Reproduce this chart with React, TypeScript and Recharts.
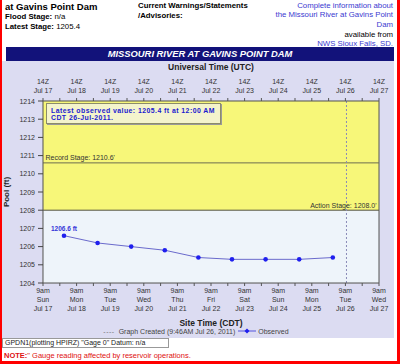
import React from 'react';
import {
  ComposedChart,
  Line,
  XAxis,
  YAxis,
  CartesianGrid,
  ReferenceArea,
  ReferenceLine,
  Label,
} from 'recharts';

// ---- data (July 2011, days of month, CDT) ----
const obsDays = [18, 19, 20, 21, 22, 23, 24, 25, 26]; // 12:00 AM CDT of each day
const obsStage = [1206.6, 1206.2, 1206.0, 1205.8, 1205.4, 1205.3, 1205.3, 1205.3, 1205.4];
const tickDates = ['Jul 17', 'Jul 18', 'Jul 19', 'Jul 20', 'Jul 21', 'Jul 22', 'Jul 23', 'Jul 24', 'Jul 25', 'Jul 26', 'Jul 27'];
const tickWeekdays = ['Sun', 'Mon', 'Tue', 'Wed', 'Thu', 'Fri', 'Sat', 'Sun', 'Mon', 'Tue', 'Wed'];
const stageTicks = [1204, 1205, 1206, 1207, 1208, 1209, 1210, 1211, 1212, 1213, 1214];
const firstTickDay = 17;
const tickHourCDT = 9; // 14Z
const recordStage = 1210.6;
const actionStage = 1208.0;
const createdDay = 26;
const createdHour = 9 + 46 / 60;

const data = obsDays.map((d, i) => ({ t: d, stage: obsStage[i] }));
const x0 = firstTickDay + tickHourCDT / 24;
const xMax = x0 + (tickDates.length - 1);
const xTicks: number[] = [];
for (let i = 0; i <= 2 * (tickDates.length - 1); i++) xTicks.push(x0 + i / 2);
const yMin = stageTicks[0];
const yMax = stageTicks[stageTicks.length - 1];
const yTicks: number[] = [];
for (let i = 0; i <= 2 * (stageTicks.length - 1); i++) yTicks.push(yMin + i / 2);
const createdT = createdDay + createdHour / 24;

const FONT = '"Liberation Sans", Arial, Helvetica, sans-serif';
const TXT = '#333';
const LAV = '#dcdcf2';

const TopTick = (props: any) => {
  const { x, y, payload } = props;
  const i = Math.round((payload.value - x0) * 2);
  if (i % 2 !== 0) return <g />;
  const d = i / 2;
  return (
    <text x={x} y={y} textAnchor="middle" fontSize={7} fill={TXT} fontFamily={FONT}>
      <tspan x={x} dy={-12}>14Z</tspan>
      <tspan x={x} dy={9.4}>{tickDates[d]}</tspan>
    </text>
  );
};

const BottomTick = (props: any) => {
  const { x, y, payload } = props;
  const i = Math.round((payload.value - x0) * 2);
  if (i % 2 !== 0) return <g />;
  const d = i / 2;
  return (
    <text x={x} y={y} textAnchor="middle" fontSize={7} fill={TXT} fontFamily={FONT}>
      <tspan x={x} dy={5.3}>9am</tspan>
      <tspan x={x} dy={8.5}>{tickWeekdays[d]}</tspan>
      <tspan x={x} dy={8.8}>{tickDates[d]}</tspan>
    </text>
  );
};

const LeftTick = (props: any) => {
  const { x, y, payload } = props;
  const v = payload.value;
  if (Math.abs(v - Math.round(v)) > 1e-6) return <g />;
  return (
    <g>
      <line x1={x + 3} x2={x + 8} y1={y} y2={y} stroke="#444" strokeWidth={1} />
      <text x={x} y={y} dy={2.5} textAnchor="end" fontSize={7} fill={TXT} fontFamily={FONT}>
        {Math.round(v)}
      </text>
    </g>
  );
};

const FirstPointLabel = (props: any) => {
  const { x, y, index, value } = props;
  if (index !== 0) return <g />;
  return (
    <text x={x} y={y - 5} textAnchor="middle" fontSize={6.5} fontWeight="bold" fill="#3535d8" fontFamily={FONT}>
      {`${Number(value).toFixed(1)} ft`}
    </text>
  );
};

export default function App() {
  const abs = (s: React.CSSProperties): React.CSSProperties => ({ position: 'absolute', ...s });
  return (
    <div style={{ position: 'absolute', left: 0, top: 0, width: 400, height: 364, background: '#fff', overflow: 'hidden', fontFamily: FONT }}>
      {/* chart on lavender panel */}
      <div style={abs({ left: 2, top: 61, width: 392, height: 277, background: LAV, overflow: 'hidden' })}>
        <div style={abs({ left: -2, top: -61 })}>
          <ComposedChart width={400} height={364} data={data} margin={{ top: 61, right: 21, bottom: 36, left: 0 }}>
            <ReferenceArea xAxisId="bottom" yAxisId="left" y1={actionStage} y2={yMax} fill="#f7f779" fillOpacity={1} stroke="none" />
            <ReferenceArea xAxisId="bottom" yAxisId="left" y1={yMin} y2={actionStage} fill="#eef4fa" fillOpacity={1} stroke="none" />
            <CartesianGrid xAxisId="bottom" yAxisId="left" stroke="#cfcfcf" strokeWidth={0.8} />
            <XAxis
              xAxisId="top"
              dataKey="t"
              orientation="top"
              type="number"
              domain={[x0, xMax]}
              ticks={xTicks}
              interval={0}
              height={40}
              tickSize={3}
              tickMargin={2}
              stroke="#555"
              tick={<TopTick />}
              allowDataOverflow
            >
              <Label value="Universal Time (UTC)" position="insideTop" offset={3} fontSize={8.5} fontWeight="bold" fill="#222" fontFamily={FONT} />
            </XAxis>
            <XAxis
              xAxisId="bottom"
              dataKey="t"
              orientation="bottom"
              type="number"
              domain={[x0, xMax]}
              ticks={xTicks}
              interval={0}
              height={45}
              tickSize={3}
              tickMargin={2}
              stroke="#555"
              tick={<BottomTick />}
              allowDataOverflow
            >
              <Label value="Site Time (CDT)" position="insideBottom" offset={2} fontSize={8.5} fontWeight="bold" fill="#222" fontFamily={FONT} />
            </XAxis>
            <YAxis
              yAxisId="left"
              type="number"
              domain={[yMin, yMax]}
              ticks={yTicks}
              interval={0}
              width={43}
              tickSize={5}
              tickMargin={3}
              tickLine={false}
              stroke="#555"
              tick={<LeftTick />}
              allowDataOverflow
            >
              <Label
                value="Pool (ft)"
                angle={-90}
                position="insideLeft"
                offset={6}
                fontSize={8}
                fontWeight="bold"
                fill="#222"
                fontFamily={FONT}
                style={{ textAnchor: 'middle' }}
              />
            </YAxis>
            <ReferenceLine xAxisId="bottom" yAxisId="left" x={xMax} stroke="#555" />
            <ReferenceLine
              xAxisId="bottom"
              yAxisId="left"
              y={recordStage}
              stroke="#6e6e50"
              strokeWidth={1}
              label={{ value: "Record Stage: 1210.6'", position: 'insideBottomLeft', offset: 2.5, fontSize: 7, fill: '#333', fontFamily: FONT }}
            />
            <ReferenceLine
              xAxisId="bottom"
              yAxisId="left"
              y={actionStage}
              stroke="#55553f"
              strokeWidth={1}
              label={{ value: "Action Stage: 1208.0'", position: 'insideBottomRight', offset: 2.5, fontSize: 7, fill: '#333', fontFamily: FONT }}
            />
            <ReferenceLine xAxisId="bottom" yAxisId="left" x={createdT} stroke="#8a8ab8" strokeDasharray="2 2" />
            {/* invisible series bound to the UTC axis so it gets a scale */}
            <Line
              xAxisId="top"
              yAxisId="left"
              type="linear"
              dataKey="stage"
              stroke="none"
              dot={false}
              activeDot={false}
              legendType="none"
              isAnimationActive={false}
            />
            <Line
              xAxisId="bottom"
              yAxisId="left"
              type="linear"
              dataKey="stage"
              stroke="#6a6acc"
              strokeWidth={1}
              dot={{ r: 2.3, fill: '#1f1fee', stroke: 'none' }}
              activeDot={false}
              isAnimationActive={false}
              label={<FirstPointLabel />}
            />
          </ComposedChart>
        </div>
      </div>

      {/* title bar */}
      <div
        style={abs({
          left: 6, top: 47, width: 388, height: 14, background: '#12127a', color: '#fff',
          fontWeight: 'bold', fontStyle: 'italic', fontSize: 9.4, lineHeight: '14px', textAlign: 'center',
        })}
      >
        MISSOURI RIVER AT GAVINS POINT DAM
      </div>

      {/* header left */}
      <div style={abs({ left: 5, top: 1, fontSize: 9.5, fontWeight: 'bold', color: '#000', lineHeight: '11px' })}>at Gavins Point Dam</div>
      <div style={abs({ left: 5, top: 12, fontSize: 7.8, color: '#000', lineHeight: '9.5px' })}>
        <b>Flood Stage:</b> n/a
      </div>
      <div style={abs({ left: 5, top: 21.5, fontSize: 7.8, color: '#000', lineHeight: '9.5px' })}>
        <b>Latest Stage:</b> 1205.4
      </div>
      {/* header middle */}
      <div style={abs({ left: 138, top: 1, fontSize: 7.8, fontWeight: 'bold', color: '#000', lineHeight: '9.5px' })}>
        Current Warnings/Statements
        <br />
        /Advisories:
      </div>
      {/* header right */}
      <div style={abs({ right: 7, top: 0.5, fontSize: 7.8, color: '#3a3ad0', lineHeight: '9.7px', textAlign: 'right' })}>
        Complete information about
        <br />
        the Missouri River at Gavins Point
        <br />
        Dam
        <br />
        <span style={{ color: '#000' }}>available from</span>
        <br />
        NWS Sioux Falls, SD.
      </div>

      {/* latest observed annotation */}
      <div
        style={abs({
          left: 46, top: 103, width: 175, height: 21, background: '#f4f4cc', border: '1px solid #8c8c6a',
          boxShadow: '1px 1px 0 #9a9a9a', boxSizing: 'border-box',
        })}
      />
      <div
        style={abs({
          left: 51, top: 107, color: '#1a1ad0', fontWeight: 'bold', fontSize: 6.9, lineHeight: '7.4px',
          letterSpacing: 0.45, whiteSpace: 'nowrap',
        })}
      >
        Latest observed value: 1205.4 ft at 12:00 AM
      </div>
      <div
        style={abs({
          left: 51, top: 114.4, color: '#1a1ad0', fontWeight: 'bold', fontSize: 6.9, lineHeight: '7.4px',
          letterSpacing: 0.45, whiteSpace: 'nowrap',
        })}
      >
        CDT 26-Jul-2011.
      </div>

      {/* legend */}
      <div
        style={abs({
          left: 0, width: 392, top: 326, height: 10, display: 'flex', justifyContent: 'center', alignItems: 'center',
          fontSize: 7, color: '#444', whiteSpace: 'nowrap',
        })}
      >
        <span style={{ color: '#777', letterSpacing: 0.5 }}>----</span>
        <span style={{ marginLeft: 4 }}>Graph Created (9:46AM Jul 26, 2011)</span>
        <svg width={18} height={8} style={{ marginLeft: 3, marginRight: 2 }}>
          <line x1={0} x2={18} y1={4} y2={4} stroke="#5555dd" strokeWidth={1} />
          <polygon points="9,1.5 11.5,4 9,6.5 6.5,4" fill="#1f1fee" />
        </svg>
        <span>Observed</span>
      </div>

      {/* datum box */}
      <div
        style={abs({
          left: 2, top: 338, width: 167, height: 10, background: '#fff', border: '1px solid #999', boxSizing: 'border-box',
          fontSize: 7, lineHeight: '8px', color: '#222', paddingLeft: 2, whiteSpace: 'nowrap',
        })}
      >
        GPDN1(plotting HPIRZ) "Gage 0" Datum: n/a
      </div>
      {/* note */}
      <div style={abs({ left: 4, top: 351, fontSize: 7.5, lineHeight: '10px', color: '#e01010', whiteSpace: 'nowrap' })}>
        <b>NOTE:</b>" Gauge reading affected by reservoir operations.
      </div>

      {/* red frame */}
      <div style={abs({ left: 0, top: 0, width: 2, height: 364, background: '#f00' })} />
      <div style={abs({ left: 397, top: 0, width: 3, height: 364, background: '#f00' })} />
      <div style={abs({ left: 0, top: 361, width: 400, height: 3, background: '#f00' })} />
    </div>
  );
}
